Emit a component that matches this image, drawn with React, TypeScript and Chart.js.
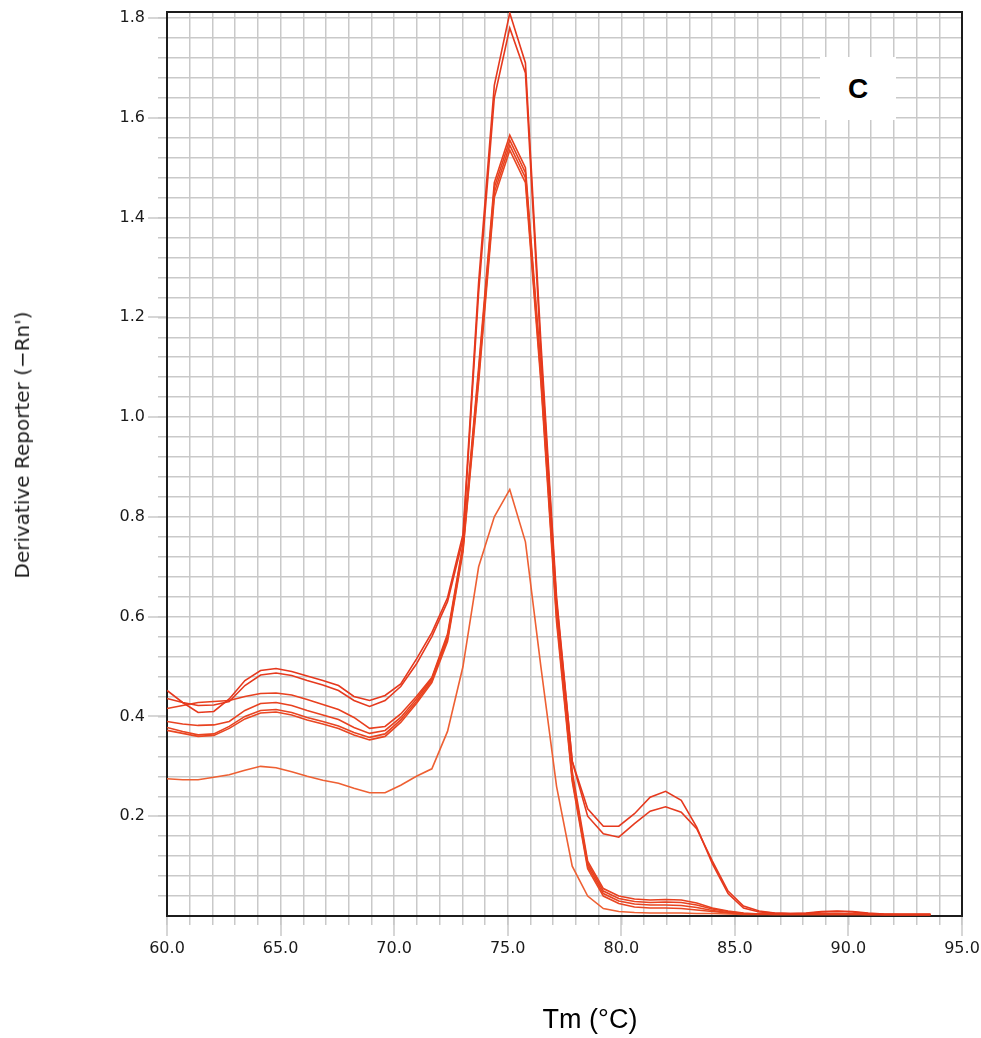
import React, { useEffect, useRef } from 'react';
import { Chart, registerables } from 'chart.js';

Chart.register(...registerables);

// Temperature (°C) of each reading
const temperatures = [
  60.0, 60.69, 61.37, 62.06, 62.74, 63.43, 64.12, 64.8, 65.49, 66.17,
  66.86, 67.55, 68.23, 68.92, 69.6, 70.29, 70.98, 71.66, 72.35, 73.03,
  73.72, 74.41, 75.09, 75.78, 76.46, 77.15, 77.84, 78.52, 79.21, 79.89,
  80.58, 81.27, 81.95, 82.64, 83.32, 84.01, 84.7, 85.38, 86.07, 86.75,
  87.44, 88.13, 88.81, 89.5, 90.18, 90.87, 91.56, 92.24, 92.93, 93.61,
];

// Derivative reporter (-Rn') for each well
const wellA = [
  0.452, 0.428, 0.408, 0.41, 0.435, 0.472, 0.492, 0.496, 0.49, 0.481,
  0.472, 0.462, 0.44, 0.432, 0.442, 0.465, 0.515, 0.568, 0.638, 0.765,
  1.27, 1.665, 1.81, 1.71, 1.15, 0.64, 0.31, 0.215, 0.18, 0.18,
  0.205, 0.238, 0.25, 0.232, 0.178, 0.105, 0.045, 0.016, 0.008, 0.006,
  0.005, 0.005, 0.008, 0.009, 0.008, 0.005, 0.003, 0.003, 0.003, 0.003,
];
const wellB = [
  0.436, 0.428, 0.422, 0.423, 0.43, 0.462, 0.483, 0.487, 0.482, 0.472,
  0.463, 0.452, 0.432, 0.42, 0.432, 0.46, 0.505, 0.56, 0.63, 0.755,
  1.25, 1.64, 1.78, 1.69, 1.13, 0.63, 0.31, 0.2, 0.165, 0.158,
  0.185, 0.21, 0.219, 0.208, 0.175, 0.11, 0.05, 0.02, 0.01, 0.006,
  0.005, 0.006, 0.009, 0.01, 0.009, 0.006, 0.004, 0.003, 0.003, 0.003,
];
const wellC = [
  0.416, 0.422, 0.428, 0.43, 0.432, 0.44, 0.446, 0.447, 0.443, 0.434,
  0.424, 0.414, 0.398, 0.376, 0.38, 0.405, 0.44, 0.478, 0.565, 0.745,
  1.1, 1.47, 1.565, 1.5, 1.1, 0.62, 0.29, 0.11, 0.055, 0.04,
  0.034, 0.032, 0.033, 0.032, 0.026, 0.016, 0.01, 0.006, 0.004, 0.004,
  0.004, 0.004, 0.005, 0.005, 0.004, 0.004, 0.003, 0.003, 0.003, 0.003,
];
const wellD = [
  0.39, 0.385, 0.382, 0.383, 0.39, 0.412, 0.426, 0.428, 0.422, 0.412,
  0.403, 0.394, 0.378, 0.366, 0.372, 0.398, 0.435, 0.476, 0.56, 0.74,
  1.09, 1.46, 1.555, 1.49, 1.09, 0.61, 0.28, 0.105, 0.05, 0.035,
  0.029, 0.027, 0.028, 0.027, 0.022, 0.014, 0.009, 0.005, 0.004, 0.004,
  0.004, 0.004, 0.004, 0.004, 0.004, 0.003, 0.003, 0.003, 0.003, 0.003,
];
const wellE = [
  0.378, 0.37, 0.363, 0.365, 0.38, 0.4, 0.412, 0.414, 0.408, 0.398,
  0.39, 0.381, 0.368, 0.358, 0.365, 0.393, 0.43, 0.472, 0.555, 0.735,
  1.08, 1.45, 1.545, 1.48, 1.08, 0.6, 0.275, 0.1, 0.045, 0.03,
  0.024, 0.022, 0.022, 0.021, 0.017, 0.011, 0.007, 0.005, 0.004, 0.004,
  0.004, 0.004, 0.004, 0.004, 0.004, 0.003, 0.003, 0.003, 0.003, 0.003,
];
const wellF = [
  0.372, 0.366, 0.36, 0.362, 0.376, 0.395, 0.407, 0.409, 0.403, 0.393,
  0.385, 0.376, 0.363, 0.353, 0.36, 0.388, 0.426, 0.468, 0.55, 0.73,
  1.07, 1.44, 1.535, 1.47, 1.07, 0.59, 0.27, 0.095, 0.04, 0.025,
  0.018, 0.016, 0.016, 0.015, 0.012, 0.009, 0.006, 0.004, 0.004, 0.003,
  0.003, 0.003, 0.003, 0.003, 0.003, 0.003, 0.003, 0.003, 0.003, 0.003,
];
const wellG = [
  0.275, 0.273, 0.273, 0.278, 0.283, 0.292, 0.3, 0.297, 0.289, 0.28,
  0.272, 0.266, 0.256, 0.247, 0.247, 0.262, 0.28, 0.295, 0.37, 0.5,
  0.7, 0.8, 0.855, 0.75, 0.5, 0.26, 0.1, 0.04, 0.015, 0.009,
  0.007, 0.006, 0.006, 0.006, 0.005, 0.005, 0.004, 0.003, 0.003, 0.003,
  0.003, 0.003, 0.003, 0.003, 0.003, 0.003, 0.003, 0.003, 0.003, 0.003,
];

const wells = [wellA, wellB, wellC, wellD, wellE, wellF, wellG];
const wellColors = ['#e6381d', '#e63a1e', '#e8401f', '#e84220', '#e94421', '#e94622', '#ee6033'];

// Axes
const xMin = 60;
const xMax = 95;
const xMinorStep = 1;
const xMajorEvery = 5;
const xTickLabels = ['60.0', '65.0', '70.0', '75.0', '80.0', '85.0', '90.0', '95.0'];

const yMin = 0;
const yMax = 1.812;
const yMinorStep = 0.04;
const yMinorCount = 45; // 0 .. 1.8
const yMajorEvery = 5;
const yTickLabels = ['0.2', '0.4', '0.6', '0.8', '1.0', '1.2', '1.4', '1.6', '1.8'];

const GRID = '#c9c9c9';
const AXIS = '#1c1c1c';
const TICK_FONT = { family: "'DejaVu Sans', sans-serif", size: 16 };

const xTickValues = () => {
  const out: number[] = [];
  for (let v = xMin; v <= xMax + 1e-9; v += xMinorStep) out.push(Math.round(v * 100) / 100);
  return out;
};
const yTickValues = () => {
  const out: number[] = [];
  for (let i = 0; i <= yMinorCount; i++) out.push(Math.round(i * yMinorStep * 1000) / 1000);
  return out;
};

const framePlugin = {
  id: 'meltFrame',
  beforeDatasetsDraw(chart: any) {
    const { ctx, chartArea: ca, scales } = chart;
    ctx.save();
    ctx.strokeStyle = GRID;
    ctx.lineWidth = 1.5;
    ctx.beginPath();
    xTickValues().forEach((v, i) => {
      if (i % xMajorEvery === 0) {
        const px = Math.round(scales.x.getPixelForValue(v));
        ctx.moveTo(px, ca.bottom);
        ctx.lineTo(px, ca.bottom + 20);
      }
    });
    yTickValues().forEach((v, i) => {
      if (i > 0 && i % yMajorEvery === 0) {
        const py = Math.round(scales.y.getPixelForValue(v));
        ctx.moveTo(ca.left - 19, py);
        ctx.lineTo(ca.left, py);
      }
    });
    ctx.stroke();
    ctx.strokeStyle = AXIS;
    ctx.lineWidth = 2;
    ctx.strokeRect(ca.left, ca.top, ca.right - ca.left, ca.bottom - ca.top);
    ctx.restore();
  },
};

export default function App() {
  const canvasRef = useRef<HTMLCanvasElement | null>(null);

  useEffect(() => {
    if (!canvasRef.current) return;
    const datasets = wells.map((w, k) => ({
      label: 'Well ' + String.fromCharCode(65 + k),
      data: temperatures.map((t, i) => ({ x: t, y: w[i] })),
      borderColor: wellColors[k],
      backgroundColor: wellColors[k],
      borderWidth: 1.6,
      pointRadius: 0,
      tension: 0,
      fill: false,
    }));

    const chart = new Chart(canvasRef.current, {
      type: 'line',
      data: { datasets },
      plugins: [framePlugin],
      options: {
        responsive: false,
        animation: false,
        events: [],
        layout: { padding: { top: 12, right: 19, left: 0, bottom: 0 } },
        plugins: { legend: { display: false }, tooltip: { enabled: false }, title: { display: false } },
        scales: {
          x: {
            type: 'linear',
            min: xMin,
            max: xMax,
            afterBuildTicks: (s: any) => {
              s.ticks = xTickValues().map((value) => ({ value }));
            },
            afterFit: (s: any) => {
              s.height = 122;
              s.paddingLeft = 0;
              s.paddingRight = 0;
            },
            border: { display: false },
            grid: { color: GRID, lineWidth: 1.5, tickLength: 9, drawTicks: true },
            ticks: {
              autoSkip: false,
              maxRotation: 0,
              minRotation: 0,
              padding: 14,
              color: '#1a1a1a',
              font: TICK_FONT,
              callback: (value: any) => {
                const idx = Math.round((Number(value) - xMin) / xMinorStep);
                return idx % xMajorEvery === 0 ? xTickLabels[idx / xMajorEvery] : '';
              },
            },
          },
          y: {
            type: 'linear',
            min: yMin,
            max: yMax,
            afterBuildTicks: (s: any) => {
              s.ticks = yTickValues().map((value) => ({ value }));
            },
            afterFit: (s: any) => {
              s.width = 167;
              s.paddingTop = 0;
              s.paddingBottom = 0;
            },
            border: { display: false },
            grid: {
              color: (c: any) => (c.tick && c.tick.value === 0 ? 'rgba(0,0,0,0)' : GRID),
              lineWidth: 1.5,
              tickLength: 9,
              drawTicks: true,
            },
            ticks: {
              autoSkip: false,
              padding: 13,
              color: '#1a1a1a',
              font: TICK_FONT,
              callback: (value: any) => {
                const idx = Math.round(Number(value) / yMinorStep);
                return idx > 0 && idx % yMajorEvery === 0 ? yTickLabels[idx / yMajorEvery - 1] : '';
              },
            },
          },
        },
      },
    } as any);

    return () => chart.destroy();
  }, []);

  return (
    <div style={{ position: 'absolute', left: 0, top: 0, width: 981, height: 1038, background: '#fff', overflow: 'hidden' }}>
      <canvas ref={canvasRef} width={981} height={1038} style={{ width: 981, height: 1038, display: 'block' }} />
      <div
        style={{
          position: 'absolute',
          left: 22,
          top: 445,
          transform: 'translate(-50%, -50%) rotate(-90deg)',
          whiteSpace: 'nowrap',
          fontFamily: "'DejaVu Sans', sans-serif",
          fontSize: 20,
          color: '#1a1a1a',
        }}
      >
        Derivative Reporter (−Rn')
      </div>
      <div
        style={{
          position: 'absolute',
          left: 590,
          top: 1019,
          transform: 'translate(-50%, -50%)',
          whiteSpace: 'nowrap',
          fontFamily: "'Liberation Sans', Arial, sans-serif",
          fontSize: 27,
          color: '#000',
        }}
      >
        Tm (°C)
      </div>
      <div
        style={{
          position: 'absolute',
          left: 820,
          top: 57,
          width: 76,
          height: 63,
          background: '#fff',
          display: 'flex',
          alignItems: 'center',
          justifyContent: 'center',
          fontFamily: "'Liberation Sans', Arial, sans-serif",
          fontWeight: 'bold',
          fontSize: 28,
          color: '#000',
        }}
      >
        C
      </div>
    </div>
  );
}
